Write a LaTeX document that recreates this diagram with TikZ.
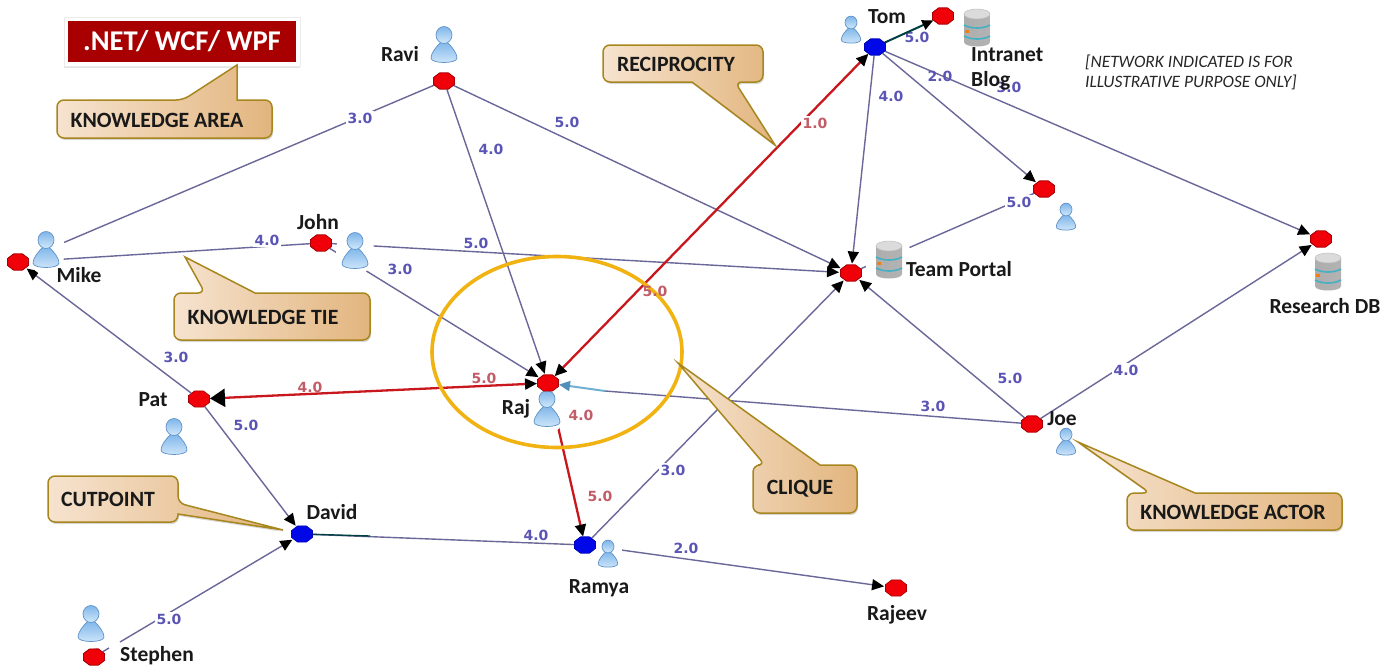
\documentclass[tikz,border=0pt]{standalone}
\usepackage{fontspec}
\setmainfont{Carlito}
\newfontfamily\edgefont{DejaVu Sans}
\usetikzlibrary{shapes.geometric,arrows.meta,shadows}
\definecolor{edgeblue}{HTML}{6A6799}
\definecolor{elabblue}{HTML}{5A55B5}
\definecolor{elabred}{HTML}{C25C66}
\definecolor{tiered}{HTML}{C8181E}
\definecolor{nodered}{HTML}{F00008}
\definecolor{nodeblue}{HTML}{0008E8}
\definecolor{gold}{HTML}{A8861E}
\definecolor{ringgold}{HTML}{F0B312}
\definecolor{boxred}{HTML}{A80000}
\definecolor{calloutA}{HTML}{F6E3CF}
\definecolor{calloutB}{HTML}{E2B57E}
\definecolor{persTop}{HTML}{7FB6EA}
\definecolor{persBot}{HTML}{D2E8FA}
\definecolor{persEdge}{HTML}{5F93C8}
\definecolor{band}{HTML}{45AFC4}
\definecolor{skyline}{HTML}{6FB0D0}
\definecolor{skytip}{HTML}{4F8FB8}
\tikzset{
  redn/.style={regular polygon,regular polygon sides=8,minimum size=17.5pt,inner sep=0pt,xscale=1.3,fill=nodered,draw=nodered!70!black,line width=.7pt},
  bluen/.style={regular polygon,regular polygon sides=8,minimum size=17.5pt,inner sep=0pt,xscale=1.3,fill=nodeblue,draw=nodeblue!80!black,line width=.7pt},
  lab/.style={font=\fontsize{21.5}{23}\selectfont\bfseries,text=black!90,inner sep=1pt},
  elab/.style={font=\edgefont\fontsize{14}{16}\selectfont\bfseries,text=elabblue,inner sep=1.5pt},
  elabr/.style={elab,text=elabred},
  gapped/.style={fill=white},
  tie/.style={draw=edgeblue,line width=1.4pt},
  atie/.style={tie,-{Triangle[length=12pt,width=11pt,black]},shorten >=1pt},
  redtie/.style={draw=tiered,line width=2.3pt},
  callout/.style={draw=gold,line width=1.5pt,left color=calloutA,right color=calloutB,drop shadow={shadow xshift=1pt,shadow yshift=-2pt,opacity=.3}},
  ctext/.style={font=\fontsize{21.8}{24}\selectfont\bfseries,text=black!90,inner sep=0pt},
  note/.style={font=\fontsize{17.4}{20}\selectfont\itshape,text=black!85,inner sep=0pt,anchor=west},
  person/.pic={
    \fill[white] (0,0) ellipse [x radius=19,y radius=25];
    \path[draw=persEdge,line width=.7pt,top color=persTop,bottom color=persBot]
      (-3,-3) .. controls (-8,2) and (-13,8) .. (-13,13) .. controls (-13,19) and (13,19) .. (13,13) .. controls (13,8) and (8,2) .. (3,-3) -- cycle;
    \path[draw=persEdge,line width=.7pt,top color=persTop,bottom color=persBot]
      (0,-10) ellipse [x radius=8,y radius=8.5];
  },
  dbicon/.pic={
    \fill[white] (0,0) ellipse [x radius=24,y radius=24];
    \path[left color=black!32,middle color=black!4,right color=black!30]
      (-13,-14) -- (-13,14) .. controls (-13,20) and (13,20) .. (13,14) -- (13,-14) -- cycle;
    \path[fill=black!14,draw=black!25,line width=.5pt] (0,-14) ellipse [x radius=13,y radius=5];
    \draw[draw=band,line width=1.6pt] (-13,-3) .. controls (-6,1) and (6,1) .. (13,-3);
    \draw[draw=band,line width=1.6pt] (-13,8) .. controls (-6,12) and (6,12) .. (13,8);
    \fill[orange!70!brown] (-12,2) rectangle (-8,5);
  }
}
\begin{document}
\begin{tikzpicture}[x=1pt,y=-1pt]
\useasboundingbox (0,0) rectangle (1396,667);
\fill[white] (0,0) rectangle (1396,667);

% graph nodes
\node[redn] (ravi) at (444,81) {};
\node[redn] (mike) at (18,262) {};
\node[redn] (john) at (321,243) {};
\node[redn] (pat) at (199,399) {};
\node[bluen] (david) at (302,534) {};
\node[redn] (stephen) at (94,657) {};
\node[redn] (raj) at (548,383) {};
\node[bluen] (ramya) at (585,545) {};
\node[redn] (rajeev) at (896,588) {};
\node[bluen] (tom) at (875,47) {};
\node[redn] (blog) at (943,16) {};
\node[redn] (anon) at (1044,189) {};
\node[redn] (portal) at (851,273) {};
\node[redn] (research) at (1321,239) {};
\node[redn] (joe) at (1032,424) {};
\coordinate (davidEnd) at (370,536);
\coordinate (joeEnd) at (605,391);
\coordinate (stephenStub) at (109,648);
\coordinate (stephenOut) at (120,642);

% ties
\draw[tie] (ravi) -- (mike);
\draw[tie] (john) -- (mike);
\draw[atie] (ravi) -- (raj);
\draw[atie] (ravi) -- (portal);
\draw[atie] (john) -- (raj);
\draw[atie] (john) -- (portal);
\draw[atie] (pat) -- (mike);
\draw[atie] (pat) -- (david);
\draw[tie] (stephen) -- (stephenStub);
\draw[atie] (stephenOut) -- (david);
\draw[tie] (david) -- (ramya);
\draw[draw=teal!50!black,line width=1.4pt] (david) -- (davidEnd);
\draw[atie] (ramya) -- (portal);
\draw[atie] (ramya) -- (rajeev);
\draw[atie] (tom) -- (portal);
\draw[atie] (tom) -- (anon);
\draw[atie] (tom) -- (research);
\draw[tie] (portal) -- (anon);
\draw[atie] (joe) -- (portal);
\draw[atie] (joe) -- (research);
\draw[tie] (joe) -- (joeEnd);
\draw[draw=skyline,line width=2pt,-{Triangle[length=11pt,width=10pt,skytip]}] (joeEnd) -- (raj);
\node[elab] (l5blog) at (917,37) {5.0};
\draw[draw=teal!50!black,line width=2pt,-{Triangle[length=11pt,width=10pt,black]}] (tom) -- (blog);
\draw[redtie,{Triangle[length=15pt,width=18pt,black]}-{Triangle[length=12pt,width=11pt,black]}] (pat) -- (raj);
\draw[redtie,{Triangle[length=12pt,width=11pt,black]}-{Triangle[length=12pt,width=11pt,black]}] (raj) -- (tom);
\draw[redtie,-{Triangle[length=12pt,width=11pt,black]}] (raj) -- (ramya);

% icons
\pic at (444,45) {person};
\pic at (46,250) {person};
\pic at (355,251) {person};
\pic at (174,437) {person};
\pic at (91,624) {person};
\pic at (547,409) {person};
\pic[scale=.75] at (608,554) {person};
\pic[scale=.75] at (851,30) {person};
\pic[scale=.75] at (1066,217) {person};
\pic[scale=.75] at (1066,442) {person};
\pic at (977,28) {dbicon};
\pic at (889,260) {dbicon};
\pic at (1328,272) {dbicon};

% repaint nodes over icon halos
\node[redn] (joe2) at (1032,424) {};
\node[redn] (raj2) at (548,383) {};
\node[redn] (john2) at (321,243) {};
\node[redn] (mike2) at (18,262) {};
\node[bluen] (ramya2) at (585,545) {};
\node[redn] (portal2) at (851,273) {};
\node[redn] (blog2) at (943,16) {};
\node[bluen] (tom2) at (875,47) {};
\node[redn] (research2) at (1321,239) {};
\node[redn] (anon2) at (1044,189) {};
\node[redn] (ravi2) at (444,81) {};
\node[redn] (stephen2) at (94,657) {};

% ring
\node[ellipse,draw=ringgold,line width=3.6pt,minimum width=250pt,minimum height=191pt,inner sep=0pt] (clique) at (557,352) {};

% edge labels
\node[elab,gapped] (l1) at (360,118) {3.0};
\node[elab] (l2) at (491,149) {4.0};
\node[elab,gapped] (l3) at (567,122) {5.0};
\node[elab,gapped] (l4) at (267,240) {4.0};
\node[elab] (l5) at (400,269) {3.0};
\node[elab,gapped] (l6) at (476,243) {5.0};
\node[elab,gapped] (l7) at (176,357) {3.0};
\node[elab] (l8) at (246,425) {5.0};
\node[elab,gapped] (l9) at (169,619) {5.0};
\node[elab,gapped] (l10) at (536,535) {4.0};
\node[elab,gapped] (l11) at (673,470) {3.0};
\node[elab,gapped] (l12) at (686,548) {2.0};
\node[elab] (l13) at (891,96) {4.0};
\node[elab] (l14) at (940,76) {2.0};
\node[elab] (l15) at (1009,87) {3.0};
\node[elab,gapped] (l16) at (1019,202) {5.0};
\node[elab,gapped] (l17) at (1010,378) {5.0};
\node[elab,gapped] (l18) at (1126,370) {4.0};
\node[elab,gapped] (l19) at (933,406) {3.0};
\node[elabr,gapped] (r1) at (815,123) {1.0};
\node[elabr] (r2) at (655,291) {5.0};
\node[elabr] (r3) at (310,387) {4.0};
\node[elabr] (r4) at (484,378) {5.0};
\node[elabr] (r5) at (581,415) {4.0};
\node[elabr] (r6) at (600,496) {5.0};

% names
\node[lab] (nRavi) at (400,54) {Ravi};
\node[lab] (nMike) at (79,275) {Mike};
\node[lab] (nJohn) at (318,222) {John};
\node[lab] (nPat) at (153,400) {Pat};
\node[lab] (nDavid) at (332,512) {David};
\node[lab] (nStephen) at (157,656) {Stephen};
\node[lab] (nRaj) at (516,409) {Raj};
\node[lab] (nRamya) at (599,588) {Ramya};
\node[lab] (nRajeev) at (897,615) {Rajeev};
\node[lab] (nTom) at (887,17) {Tom};
\node[lab,anchor=west] (nIntranet) at (970,55) {Intranet};
\node[lab,anchor=west] (nBlog) at (970,81) {Blog};
\node[lab] (nPortal) at (959,269) {Team Portal};
\node[lab] (nResearch) at (1325,306) {Research DB};
\node[lab] (nJoe) at (1062,419) {Joe};

% knowledge area box
\node[fill=white,draw=black!8,line width=.6pt,minimum width=236pt,minimum height=49pt,inner sep=0pt,drop shadow={shadow xshift=0pt,shadow yshift=-2pt,opacity=.22}] (areaFrame) at (182,41.5) {};
\node[fill=boxred,minimum width=228pt,minimum height=41pt,inner sep=0pt,font=\fontsize{28.6}{31}\selectfont\bfseries,text=white] (area) at (182,41.5) {.NET/ WCF/ WPF};

% callouts
\path[callout,rounded corners=7pt] (57,100) -- (183,100) [sharp corners] -- (237,65) -- (237,100) [rounded corners=7pt] -- (272,100) -- (272,138) -- (57,138) -- cycle;
\node[ctext] (cArea) at (157,120) {KNOWLEDGE AREA};
\path[callout,rounded corners=7pt] (174,293) -- (205,293) [sharp corners] -- (185,257) -- (255,293) [rounded corners=7pt] -- (370,293) -- (370,340) -- (174,340) -- cycle;
\node[ctext] (cTie) at (263,317) {KNOWLEDGE TIE};
\path[callout,rounded corners=7pt] (603,45) -- (763,45) -- (763,82) -- (735,82) [sharp corners] -- (775,145) -- (692,82) [rounded corners=7pt] -- (603,82) -- cycle;
\node[ctext] (cRec) at (676,64) {RECIPROCITY};
\path[callout,rounded corners=7pt] (857,465) -- (857,513) -- (753,513) -- (753,465) -- (765,465) [sharp corners] -- (678,363) -- (820,465) [rounded corners=7pt] -- cycle;
\node[ctext] (cClique) at (800,489) {CLIQUE};
\path[callout,rounded corners=7pt] (1127,493) -- (1150,493) [sharp corners] -- (1078,442) -- (1195,493) [rounded corners=7pt] -- (1342,493) -- (1342,530) -- (1127,530) -- cycle;
\node[ctext] (cActor) at (1233,512) {KNOWLEDGE ACTOR};
\path[callout,rounded corners=7pt] (48,476) -- (178,476) -- (178,503) [sharp corners] -- (283,530) -- (178,514) [rounded corners=7pt] -- (178,522) -- (48,522) -- cycle;
\node[ctext] (cCut) at (108,499) {CUTPOINT};

% note
\node[note] (note1) at (1085,62) {[NETWORK INDICATED IS FOR};
\node[note] (note2) at (1085,82) {ILLUSTRATIVE PURPOSE ONLY]};
\end{tikzpicture}
\end{document}
